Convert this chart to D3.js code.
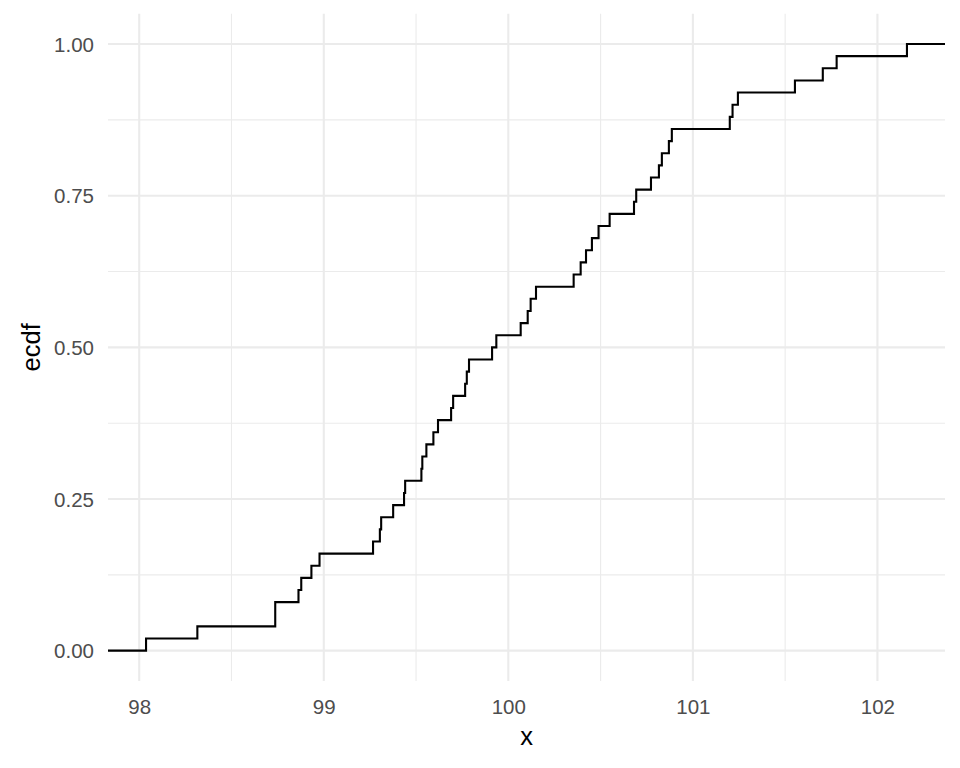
<!DOCTYPE html>
<html>
<head>
<meta charset="utf-8">
<script src="https://cdn.jsdelivr.net/npm/d3@7"></script>
<style>
  html, body { margin: 0; padding: 0; background: #ffffff; }
  svg { display: block; }
  text { font-family: Arial, "Liberation Sans", sans-serif; }
</style>
</head>
<body>
<script>
// Sorted sample values read from the ECDF steps (50 observations)
const sampleX = [
  98.037, 98.315, 98.737, 98.737, 98.863, 98.878, 98.933, 98.977, 99.267, 99.304,
  99.311, 99.376, 99.435, 99.441, 99.529, 99.534, 99.556, 99.594, 99.619, 99.690,
  99.701, 99.766, 99.775, 99.787, 99.912, 99.935, 100.067, 100.105, 100.121, 100.150,
  100.354, 100.392, 100.421, 100.453, 100.489, 100.549, 100.681, 100.693, 100.773, 100.816,
  100.832, 100.870, 100.886, 101.200, 101.215, 101.244, 101.553, 101.704, 101.779, 102.160
];
const xTickValues = [98, 99, 100, 101, 102];
const xTickLabels = ["98", "99", "100", "101", "102"];
const xMinorValues = [98.5, 99.5, 100.5, 101.5];
const yTickValues = [0, 0.25, 0.5, 0.75, 1];
const yTickLabels = ["0.00", "0.25", "0.50", "0.75", "1.00"];
const yMinorValues = [0.125, 0.375, 0.625, 0.875];
const xTitle = "x";
const yTitle = "ecdf";

const W = 960, H = 768;
const panel = { left: 108, right: 945, top: 13.7, bottom: 681 };

const svg = d3.select("body").append("svg")
  .attr("width", W).attr("height", H);

// ggplot-like 5% expansion
const ext = d3.extent(sampleX);
const pad = (ext[1] - ext[0]) * 0.05;
const x = d3.scaleLinear().domain([ext[0] - pad, ext[1] + pad])
  .range([panel.left, panel.right]);
const y = d3.scaleLinear().domain([-0.05, 1.05])
  .range([panel.bottom, panel.top]);

const gridColor = "#EBEBEB";

// minor grid
const g = svg.append("g");
g.selectAll("line.xminor").data(xMinorValues).join("line")
  .attr("x1", d => x(d)).attr("x2", d => x(d))
  .attr("y1", panel.top).attr("y2", panel.bottom)
  .attr("stroke", gridColor).attr("stroke-width", 1.1);
g.selectAll("line.yminor").data(yMinorValues).join("line")
  .attr("y1", d => y(d)).attr("y2", d => y(d))
  .attr("x1", panel.left).attr("x2", panel.right)
  .attr("stroke", gridColor).attr("stroke-width", 1.1);
// major grid
g.selectAll("line.xmajor").data(xTickValues).join("line")
  .attr("x1", d => x(d)).attr("x2", d => x(d))
  .attr("y1", panel.top).attr("y2", panel.bottom)
  .attr("stroke", gridColor).attr("stroke-width", 2.1);
g.selectAll("line.ymajor").data(yTickValues).join("line")
  .attr("y1", d => y(d)).attr("y2", d => y(d))
  .attr("x1", panel.left).attr("x2", panel.right)
  .attr("stroke", gridColor).attr("stroke-width", 2.1);

// ECDF step line
const n = sampleX.length;
const pts = [[x.domain()[0], 0]];
sampleX.forEach((v, i) => pts.push([v, (i + 1) / n]));
pts.push([x.domain()[1], 1]);
const line = d3.line().x(d => x(d[0])).y(d => y(d[1])).curve(d3.curveStepAfter);
svg.append("path").attr("d", line(pts))
  .attr("fill", "none").attr("stroke", "#000000")
  .attr("stroke-width", 2.1).attr("stroke-linejoin", "miter").attr("stroke-linecap", "butt");

// axes (no lines, only labels)
const xAxis = d3.axisBottom(x).tickValues(xTickValues)
  .tickFormat((d, i) => xTickLabels[i]).tickSize(0).tickPadding(0);
const xg = svg.append("g").attr("transform", `translate(0,${panel.bottom})`).call(xAxis);
xg.select(".domain").remove();
xg.selectAll("text").attr("fill", "#4D4D4D").attr("font-size", 20.5)
  .attr("dy", null).attr("y", 33);

const yAxis = d3.axisLeft(y).tickValues(yTickValues)
  .tickFormat((d, i) => yTickLabels[i]).tickSize(0).tickPadding(0);
const yg = svg.append("g").attr("transform", `translate(${panel.left},0)`).call(yAxis);
yg.select(".domain").remove();
yg.selectAll("text").attr("fill", "#4D4D4D").attr("font-size", 20.5)
  .attr("x", -14).attr("dy", "0.35em");

// titles
svg.append("text").attr("x", (panel.left + panel.right) / 2).attr("y", 745)
  .attr("text-anchor", "middle").attr("font-size", 25.5).attr("fill", "#000")
  .text(xTitle);
svg.append("text")
  .attr("transform", `translate(40,${(panel.top + panel.bottom) / 2}) rotate(-90)`)
  .attr("text-anchor", "middle").attr("font-size", 25.5).attr("fill", "#000")
  .text(yTitle);
</script>
</body>
</html>
